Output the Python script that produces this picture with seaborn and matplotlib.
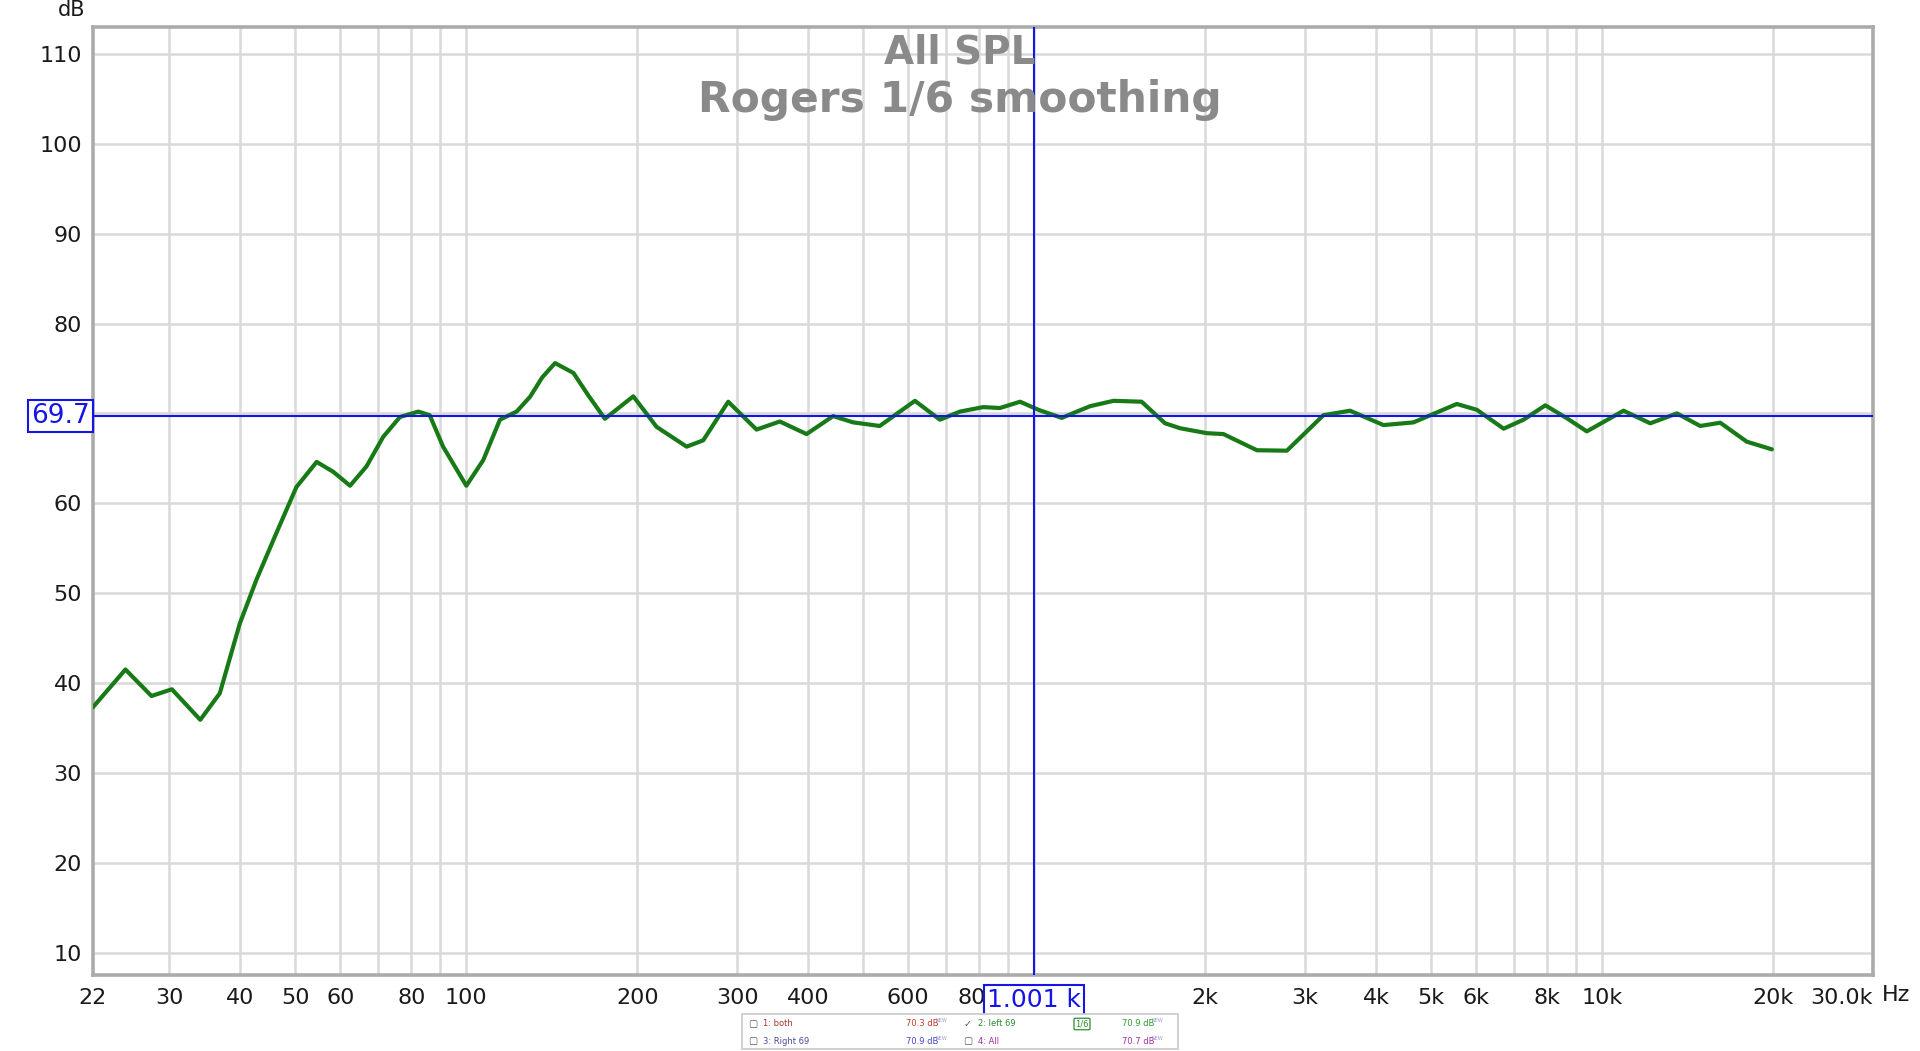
import numpy as np
import pandas as pd
import seaborn as sns
import matplotlib.pyplot as plt
from matplotlib.transforms import blended_transform_factory
from matplotlib.ticker import FixedLocator, FixedFormatter, NullLocator

# Frequency response (Hz, dB SPL)
freq_hz = [22, 25.1, 27.9, 30.3, 34.0, 36.8, 39.9, 42.7, 46.3, 50.2,
           54.5, 58.3, 62.4, 66.7, 71.4, 76.4, 82.3, 86.2, 91.0, 100,
           107.1, 114.6, 122.6, 129.5, 136, 143.3, 154.4, 164, 175.4, 196.8,
           216.3, 244.3, 261.3, 289.2, 324.4, 356.5, 397.3, 442.6, 480, 534.6,
           616.6, 682.3, 739.9, 813.1, 870.5, 944.6, 1017, 1118, 1254, 1379.5,
           1546, 1700, 1807, 2014, 2154, 2467, 2786, 3231, 3600, 4122,
           4655, 5550, 6020, 6710, 7275, 7946, 8676, 9402, 10910, 12160,
           13550, 14890, 16150, 17990, 19910]
spl_db = [37.3, 41.5, 38.55, 39.3, 35.9, 38.85, 46.6, 51.5, 56.7, 61.8,
          64.6, 63.5, 61.95, 64.1, 67.4, 69.6, 70.2, 69.8, 66.3, 61.95,
          64.8, 69.3, 70.2, 71.85, 74.0, 75.6, 74.5, 72.0, 69.4, 71.9,
          68.5, 66.3, 67.0, 71.3, 68.2, 69.1, 67.7, 69.7, 69.0, 68.6,
          71.4, 69.3, 70.2, 70.7, 70.6, 71.3, 70.4, 69.5, 70.8, 71.4,
          71.3, 68.9, 68.35, 67.8, 67.7, 65.9, 65.85, 69.8, 70.3, 68.7,
          69.0, 71.05, 70.4, 68.3, 69.3, 70.9, 69.45, 68.0, 70.3, 68.9,
          70.0, 68.6, 68.96, 66.85, 66.0]

# grid positions and which of them carry a label
x_grid = [30, 40, 50, 60, 70, 80, 90, 100, 200, 300, 400, 500, 600, 700, 800, 900,
          1000, 2000, 3000, 4000, 5000, 6000, 7000, 8000, 9000, 10000, 20000]
x_labels = {22: "22", 30: "30", 40: "40", 50: "50", 60: "60", 80: "80", 100: "100",
            200: "200", 300: "300", 400: "400", 600: "600", 800: "800",
            2000: "2k", 3000: "3k", 4000: "4k", 5000: "5k", 6000: "6k", 8000: "8k",
            10000: "10k", 20000: "20k", 30000: "30.0k"}
y_ticks = [10, 20, 30, 40, 50, 60, 70, 80, 90, 100, 110]
y_hidden = [70]  # sits under the cursor readout box

cursor_db = 69.7
cursor_hz = 1001

legend_rows = [
    [("1: both", "#a83232", "70.3 dB", "#c0392b", False),
     ("2: left 69", "#2e8b2e", "70.9 dB", "#2e9b2e", True)],
    [("3: Right 69", "#4b4b9b", "70.9 dB", "#4646c8", False),
     ("4: All", "#a030a0", "70.7 dB", "#a030a0", False)],
]

df = pd.DataFrame({"freq": freq_hz, "spl": spl_db})

sns.set_theme(style="white")
plt.rcParams["font.family"] = ["DejaVu Sans"]

fig = plt.figure(figsize=(19.2, 10.51), dpi=100)
ax = fig.add_axes([0.0484, 0.0723, 0.9271, 0.9020])

sns.lineplot(data=df, x="freq", y="spl", ax=ax, color="#177a17", linewidth=3.0,
             solid_joinstyle="round", solid_capstyle="round", zorder=4)

ax.set_xscale("log")
ax.set_xlim(22, 30000)
ax.set_ylim(7.5, 113)

# grid: every line drawn, only some labelled
tick_pos = sorted(set(x_grid) | set(x_labels))
ax.xaxis.set_major_locator(FixedLocator(tick_pos))
ax.xaxis.set_major_formatter(FixedFormatter([x_labels.get(p, "") for p in tick_pos]))
ax.xaxis.set_minor_locator(NullLocator())
ax.set_yticks(y_ticks)
ax.set_yticklabels(["" if v in y_hidden else str(v) for v in y_ticks])
ax.tick_params(axis="both", length=0, labelsize=16, colors="#1a1a1a")
ax.tick_params(axis="x", pad=9)
ax.tick_params(axis="y", pad=8)
for lab, p in zip(ax.get_xticklabels(), tick_pos):
    if p == 30000:
        lab.set_horizontalalignment("right")

for p in x_grid:
    ax.axvline(p, color="#d9d9d9", linewidth=1.8, zorder=1)
for v in y_ticks:
    ax.axhline(v, color="#d9d9d9", linewidth=1.8, zorder=1)

for s in ax.spines.values():
    s.set_color("#ababab")
    s.set_linewidth(2.6)

ax.set_xlabel("")
ax.set_ylabel("")

# cursor crosshair
ax.axhline(cursor_db, color="#1515e6", linewidth=1.5, zorder=5)
ax.axvline(cursor_hz, color="#1515e6", linewidth=1.5, zorder=5)
ax.text(-0.0015, cursor_db, "69.7", transform=blended_transform_factory(ax.transAxes, ax.transData),
        ha="right", va="center", fontsize=19, color="#1515e6", clip_on=False, zorder=10,
        bbox=dict(boxstyle="square,pad=0.12", fc="white", ec="#1515e6", lw=1.5))
ax.text(cursor_hz, -0.026, "1.001 k", transform=blended_transform_factory(ax.transData, ax.transAxes),
        ha="center", va="center", fontsize=18, color="#1515e6", clip_on=False, zorder=10,
        bbox=dict(boxstyle="square,pad=0.12", fc="white", ec="#1515e6", lw=1.5))

# title inside the plot
fig.text(0.5, 1 - 53 / 1051, "All SPL", ha="center", va="center", fontsize=28,
         fontweight="bold", color="#8a8a8a")
fig.text(0.5, 1 - 100 / 1051, "Rogers 1/6 smoothing", ha="center", va="center", fontsize=30.5,
         fontweight="bold", color="#8a8a8a")

fig.text(72 / 1920, 1 - 10 / 1051, "dB", ha="center", va="center", fontsize=15, color="#1a1a1a")
fig.text(1882 / 1920, 1 - 995 / 1051, "Hz", ha="left", va="center", fontsize=16, color="#1a1a1a")

# measurement list box below the plot
W, H = 1920, 1051
fig.patches.append(plt.Rectangle((742 / W, 1 - 1049 / H), 436 / W, 35 / H,
                                 transform=fig.transFigure, fc="white", ec="#c8c8c8", lw=1.2))
row_y = [1024, 1041]
col_x = [(753, 763, 906), (968, 978, 1122)]
for r, row in enumerate(legend_rows):
    for c, (name, ncol, val, vcol, checked) in enumerate(row):
        bx, nx, vx = col_x[c]
        y = 1 - row_y[r] / H
        fig.text(bx / W, y, "\u2713" if checked else "\u25a2", ha="center", va="center",
                 fontsize=7, color="#555555")
        fig.text(nx / W, y, name, ha="left", va="center", fontsize=6, color=ncol)
        fig.text(vx / W, y, val, ha="left", va="center", fontsize=6, color=vcol)
        fig.text((vx + 30) / W, y + 3 / H, "NEW", ha="left", va="center", fontsize=3.5, color="#9999cc")
fig.text(1082 / W, 1 - 1024 / H, "1/6", ha="center", va="center", fontsize=6, color="#2e8b2e",
         bbox=dict(boxstyle="round,pad=0.15", fc="white", ec="#2e8b2e", lw=0.9))

fig.savefig("out.png", dpi=100)
